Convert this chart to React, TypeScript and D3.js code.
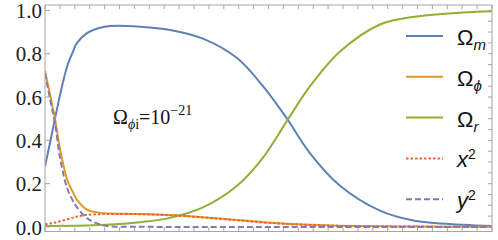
import React from "react";
import * as d3 from "d3";

// x positions (arbitrary time units) shared by all series
const xs = [0, 0.34, 0.67, 1.01, 1.48, 1.88, 2.15, 2.82, 3.69, 4.36, 6.38, 8.39, 10.6, 12.89, 14.63, 16.24, 17.79, 19.8, 22.48, 24.7, 28.05, 30];

const omegaM = [0.28, 0.39, 0.5, 0.61, 0.74, 0.81, 0.85, 0.895, 0.92, 0.928, 0.925, 0.91, 0.87, 0.78, 0.65, 0.5, 0.34, 0.19, 0.075, 0.03, 0.01, 0.004];
const omegaPhi = [0.72, 0.61, 0.5, 0.36, 0.22, 0.16, 0.125, 0.08, 0.065, 0.062, 0.06, 0.055, 0.045, 0.032, 0.022, 0.015, 0.01, 0.006, 0.003, 0.002, 0.001, 0.001];
const omegaR = [0.004, 0.004, 0.004, 0.005, 0.005, 0.006, 0.006, 0.007, 0.009, 0.011, 0.022, 0.042, 0.09, 0.19, 0.32, 0.49, 0.65, 0.81, 0.935, 0.97, 0.99, 0.996];
const xSq = [0.012, 0.016, 0.02, 0.026, 0.035, 0.043, 0.048, 0.056, 0.059, 0.06, 0.059, 0.054, 0.044, 0.031, 0.021, 0.014, 0.009, 0.005, 0.003, 0.002, 0.001, 0.001];
const ySq = [0.71, 0.59, 0.48, 0.32, 0.18, 0.12, 0.09, 0.04, 0.012, 0.003, 0.001, 0, 0, 0, 0, 0, 0, 0, 0, 0, 0, 0];

const yTicks = [0, 0.2, 0.4, 0.6, 0.8, 1.0];

const series = [
  { key: "m", values: omegaM, color: "#5E81B5", dash: null },
  { key: "phi", values: omegaPhi, color: "#E19C24", dash: null },
  { key: "r", values: omegaR, color: "#8FB032", dash: null },
  { key: "x2", values: xSq, color: "#EB6235", dash: "2.5,2" },
  { key: "y2", values: ySq, color: "#8778B3", dash: "6,3" },
];

const W = 498;
const H = 240;
const left = 45;
const right = 492;
const top = 5;
const bottom = 231.5;

export default function App() {
  const x = d3.scaleLinear().domain([0, 30]).range([left, right]);
  const y = d3.scaleLinear().domain([-0.021, 1.025]).range([bottom, top]);

  const line = d3
    .line<number>()
    .x((_, i) => x(xs[i]))
    .y((d) => y(d))
    .curve(d3.curveCatmullRom.alpha(0.5));

  const frameColor = "#a6a6a6";
  const xTicks = d3.range(0, 31, 1);
  const yMinor = d3.range(0, 1.001, 0.05);

  const legendY0 = 36;
  const legendStep = 40.8;
  const sans = "'Liberation Sans', Arial, sans-serif";
  const serif = "'Liberation Serif', 'Times New Roman', serif";

  const legendLabel = (key: string) => {
    if (key === "m" || key === "phi" || key === "r") {
      const sub = key === "m" ? "m" : key === "r" ? "r" : "\u03d5";
      return (
        <>
          <tspan>Ω</tspan>
          <tspan fontSize={15} fontStyle="italic" dy={5}>{sub}</tspan>
        </>
      );
    }
    return (
      <>
        <tspan fontStyle="italic">{key === "x2" ? "x" : "y"}</tspan>
        <tspan fontSize={14} dy={-8}>2</tspan>
      </>
    );
  };

  return (
    <svg width={W} height={H} style={{ position: "absolute", left: 0, top: 0 }}>
      <rect x={0} y={0} width={W} height={H} fill="#fff" />
      {/* curves */}
      <g clipPath="url(#clip)">
        <clipPath id="clip">
          <rect x={left} y={top} width={right - left} height={bottom - top} />
        </clipPath>
        {series.map((s) => (
          <path
            key={s.key}
            d={line(s.values) || ""}
            fill="none"
            stroke={s.color}
            strokeWidth={2}
            strokeDasharray={s.dash || undefined}
          />
        ))}
      </g>
      {/* frame */}
      <rect x={left} y={top} width={right - left} height={bottom - top} fill="none" stroke={frameColor} strokeWidth={1} />
      {xTicks.map((t) => (
        <g key={"xt" + t}>
          <line x1={x(t)} x2={x(t)} y1={bottom} y2={bottom - 4} stroke={frameColor} />
          <line x1={x(t)} x2={x(t)} y1={top} y2={top + 4} stroke={frameColor} />
        </g>
      ))}
      {yTicks.map((t) => (
        <g key={"yt" + t}>
          <line x1={left} x2={left + 5} y1={y(t)} y2={y(t)} stroke={frameColor} />
          <text x={42} y={y(t)} dy="0.36em" textAnchor="end" fontFamily={serif} fontSize={21} fill="#222">
            {t.toFixed(1)}
          </text>
        </g>
      ))}
      {yMinor.map((t) => (
        <line key={"ym" + t} x1={right} x2={right - 4} y1={y(t)} y2={y(t)} stroke={frameColor} />
      ))}
      {/* annotation */}
      <text x={113} y={124} fontFamily={serif} fontSize={20} fill="#111">
        Ω<tspan fontSize={14} dy={5} fontStyle="italic">ϕ</tspan>
        <tspan fontSize={14}>i</tspan>
        <tspan dy={-5}>=10</tspan>
        <tspan fontSize={14} dy={-9}>−21</tspan>
      </text>
      {/* legend */}
      {series.map((s, i) => {
        const ly = legendY0 + i * legendStep;
        return (
          <g key={"lg" + s.key}>
            <line x1={406} x2={443} y1={ly} y2={ly} stroke={s.color} strokeWidth={2} strokeDasharray={s.dash || undefined} />
            <text x={457} y={ly + 9} fontFamily={sans} fontSize={22} fill="#111">
              {legendLabel(s.key)}
            </text>
          </g>
        );
      })}
    </svg>
  );
}
